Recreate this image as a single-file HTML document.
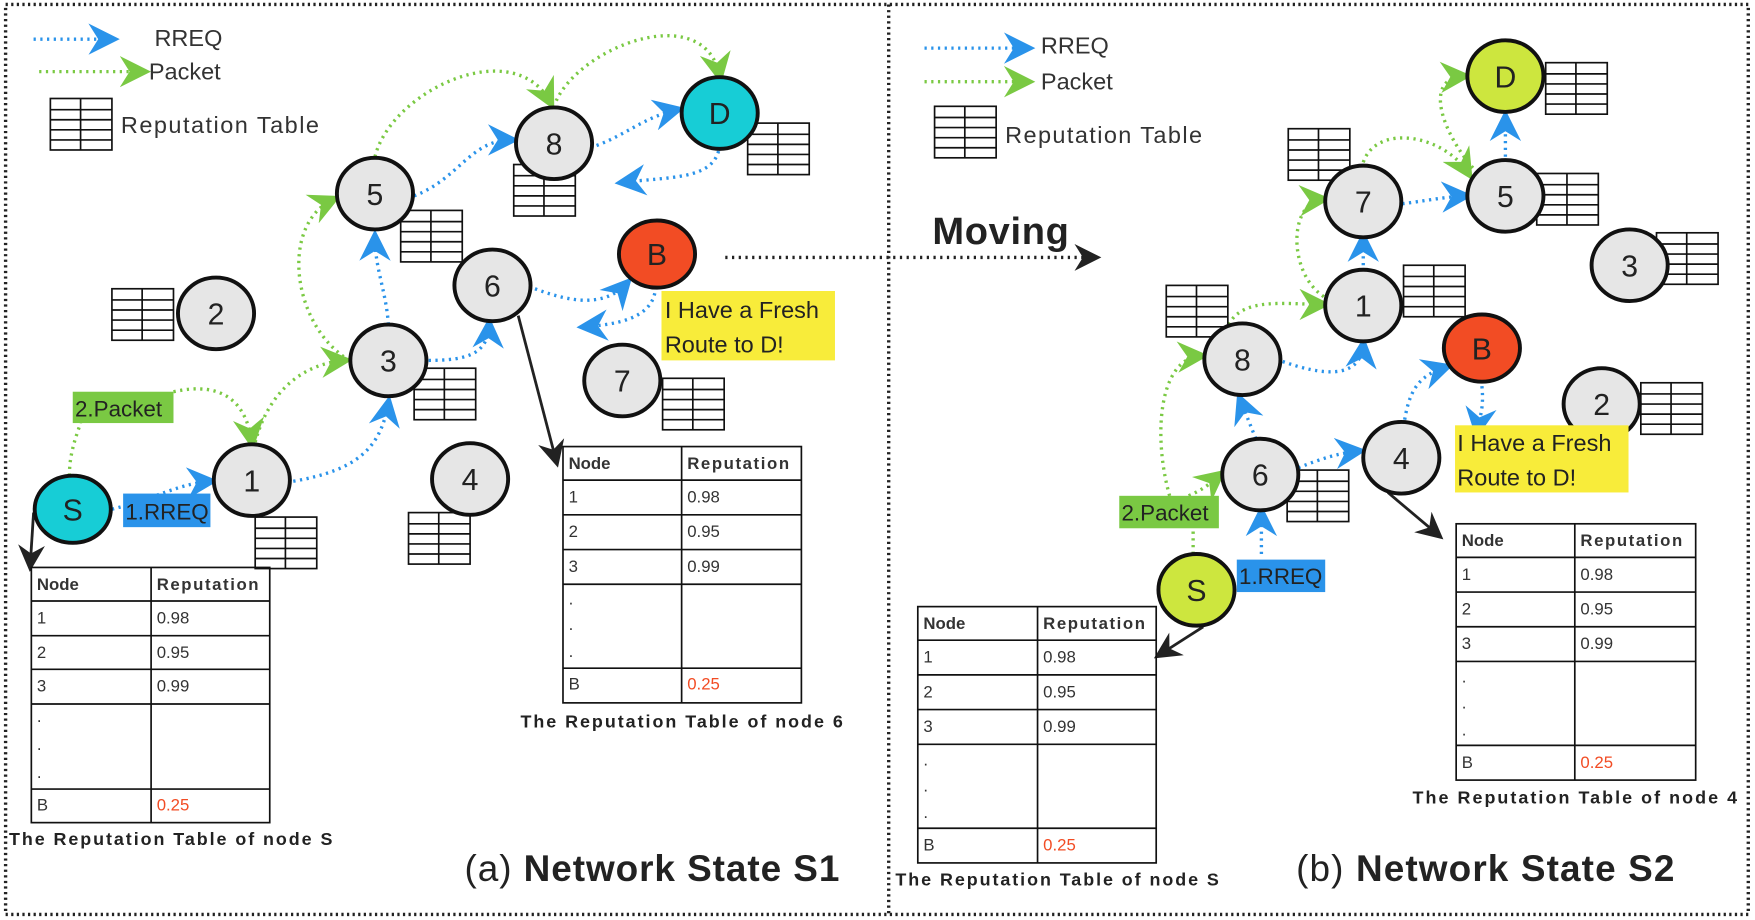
<!DOCTYPE html>
<html><head><meta charset="utf-8"><style>
html,body{margin:0;padding:0;background:#fff}
svg{display:block}
text{font-family:"Liberation Sans",sans-serif}
</style></head><body>
<svg width="1755" height="920" viewBox="0 0 1568 822" preserveAspectRatio="none" xmlns="http://www.w3.org/2000/svg">
<defs>
<marker id="mb" viewBox="0 0 16 16" refX="12" refY="8" markerWidth="28" markerHeight="28" markerUnits="userSpaceOnUse" orient="auto"><path d="M0,0 L16,8 L0,16 L5,8 Z" fill="#2a93ea"/></marker>
<marker id="mg" viewBox="0 0 16 16" refX="12" refY="8" markerWidth="28" markerHeight="28" markerUnits="userSpaceOnUse" orient="auto"><path d="M0,0 L16,8 L0,16 L5,8 Z" fill="#7ac943"/></marker>
<marker id="mk" viewBox="0 0 16 16" refX="12" refY="8" markerWidth="24" markerHeight="24" markerUnits="userSpaceOnUse" orient="auto"><path d="M0,0 L16,8 L0,16 L5,8 Z" fill="#222"/></marker>
<g id="mt">
<rect x="0" y="0" width="55" height="46" fill="#fff" stroke="#111" stroke-width="1.5"/>
<line x1="27" y1="0" x2="27" y2="46" stroke="#111" stroke-width="1.5"/>
<line x1="0" y1="10" x2="55" y2="10" stroke="#111" stroke-width="1.5"/>
<line x1="0" y1="19" x2="55" y2="19" stroke="#111" stroke-width="1.5"/>
<line x1="0" y1="28" x2="55" y2="28" stroke="#111" stroke-width="1.5"/>
<line x1="0" y1="37" x2="55" y2="37" stroke="#111" stroke-width="1.5"/>
</g>
</defs>
<rect x="5" y="4" width="1557" height="813" fill="none" stroke="#222" stroke-width="3" stroke-dasharray="2,3"/>
<line x1="794" y1="4" x2="794" y2="817" stroke="#222" stroke-width="3" stroke-dasharray="2,3"/>

<g fill="none" stroke-width="3" stroke-dasharray="2,4">
<line x1="30" y1="35" x2="100" y2="35" stroke="#2a93ea" marker-end="url(#mb)"/>
<line x1="35" y1="64" x2="128" y2="64" stroke="#7ac943" marker-end="url(#mg)"/>
<line x1="826" y1="43" x2="918" y2="43" stroke="#2a93ea" marker-end="url(#mb)"/>
<line x1="826" y1="73" x2="918" y2="73" stroke="#7ac943" marker-end="url(#mg)"/>
</g>
<g font-size="21" fill="#333">
<text x="138" y="41">RREQ</text><text x="133" y="71">Packet</text><text x="108" y="119" textLength="177">Reputation Table</text>
<text x="930" y="48">RREQ</text><text x="930" y="80">Packet</text><text x="898" y="128" textLength="176">Reputation Table</text>
</g>
<use href="#mt" x="45" y="88"/>
<use href="#mt" x="835" y="95"/>

<g fill="none" stroke="#7ac943" stroke-width="3" stroke-dasharray="2,4">
<path d="M62,425 C62,405 68,390 72,378"/>
<path d="M155,350 C200,340 220,360 225,395" marker-end="url(#mg)"/>
<path d="M228,395 C240,350 270,325 308,322" marker-end="url(#mg)"/>
<path d="M312,322 C260,290 250,200 298,178" marker-end="url(#mg)"/>
<path d="M335,140 C350,80 460,30 492,92" marker-end="url(#mg)"/>
<path d="M497,90 C520,40 630,0 643,68" marker-end="url(#mg)"/>
<path d="M1066,495 C1066,485 1066,478 1066,473"/>
<path d="M1062,443 C1080,435 1085,428 1090,424" marker-end="url(#mg)"/>
<path d="M1045,443 C1030,390 1035,320 1073,318" marker-end="url(#mg)"/>
<path d="M1098,290 C1110,265 1150,272 1182,272" marker-end="url(#mg)"/>
<path d="M1188,268 C1150,250 1150,180 1182,178" marker-end="url(#mg)"/>
<path d="M1218,145 C1230,110 1290,120 1312,155" marker-end="url(#mg)"/>
<path d="M1316,150 C1290,120 1270,70 1308,68" marker-end="url(#mg)"/>
</g>
<g fill="none" stroke="#2a93ea" stroke-width="3" stroke-dasharray="2,4">
<path d="M100,455 C140,445 160,432 188,430" marker-end="url(#mb)"/>
<path d="M262,430 C320,420 340,400 347,360" marker-end="url(#mb)"/>
<path d="M347,290 C345,260 335,240 335,212" marker-end="url(#mb)"/>
<path d="M370,175 C410,160 420,125 457,125" marker-end="url(#mb)"/>
<path d="M533,130 C560,120 575,105 605,98" marker-end="url(#mb)"/>
<path d="M642,135 C635,160 600,158 556,163" marker-end="url(#mb)"/>
<path d="M383,322 C420,322 436,315 437,290" marker-end="url(#mb)"/>
<path d="M478,258 C510,270 540,275 560,253" marker-end="url(#mb)"/>
<path d="M585,262 C580,285 550,290 522,292" marker-end="url(#mb)"/>
<path d="M1127,495 L1127,458" marker-end="url(#mb)"/>
<path d="M1122,392 L1108,357" marker-end="url(#mb)"/>
<path d="M1146,323 C1180,335 1215,340 1218,308" marker-end="url(#mb)"/>
<path d="M1218,243 L1218,213" marker-end="url(#mb)"/>
<path d="M1253,182 C1270,180 1290,176 1309,175" marker-end="url(#mb)"/>
<path d="M1345,140 L1345,105" marker-end="url(#mb)"/>
<path d="M1160,418 C1180,410 1195,405 1214,403" marker-end="url(#mb)"/>
<path d="M1255,375 C1260,345 1270,335 1292,328" marker-end="url(#mb)"/>
<path d="M1324,345 C1326,365 1322,372 1320,385" marker-end="url(#mb)"/>
</g>
<g fill="none" stroke="#222" stroke-width="2.5">
<line x1="463" y1="282" x2="497" y2="412" marker-end="url(#mk)"/>
<line x1="30" y1="458" x2="27" y2="505" marker-end="url(#mk)"/>
<line x1="1240" y1="440" x2="1285" y2="478" marker-end="url(#mk)"/>
<line x1="1075" y1="560" x2="1036" y2="585" marker-end="url(#mk)"/>
</g>
<line x1="648" y1="230" x2="978" y2="230" stroke="#222" stroke-width="3" stroke-dasharray="2,4" marker-end="url(#mk)"/>
<text x="833" y="218" font-size="34" font-weight="bold" fill="#222" textLength="122">Moving</text>

<use href="#mt" x="668" y="110"/><use href="#mt" x="459" y="147"/><use href="#mt" x="358" y="188"/>
<use href="#mt" x="100" y="258"/><use href="#mt" x="370" y="329"/><use href="#mt" x="592" y="338"/>
<use href="#mt" x="228" y="462"/><use href="#mt" x="365" y="458"/>
<use href="#mt" x="1381" y="56"/><use href="#mt" x="1151" y="115"/><use href="#mt" x="1373" y="155"/>
<use href="#mt" x="1480" y="208"/><use href="#mt" x="1254" y="237"/><use href="#mt" x="1042" y="255"/>
<use href="#mt" x="1466" y="342"/><use href="#mt" x="1150" y="420"/>

<g stroke="#111" stroke-width="3.5">
<g fill="#e6e6e6">
<ellipse cx="495" cy="128" rx="34" ry="32"/><ellipse cx="335" cy="173" rx="34" ry="32"/>
<ellipse cx="440" cy="255" rx="34" ry="32"/><ellipse cx="193" cy="280" rx="34" ry="32"/>
<ellipse cx="347" cy="322" rx="34" ry="32"/><ellipse cx="556" cy="340" rx="34" ry="32"/>
<ellipse cx="225" cy="429" rx="34" ry="32"/><ellipse cx="420" cy="428" rx="34" ry="32"/>
<ellipse cx="1218" cy="180" rx="34" ry="32"/><ellipse cx="1345" cy="175" rx="34" ry="32"/>
<ellipse cx="1456" cy="237" rx="34" ry="32"/><ellipse cx="1218" cy="273" rx="34" ry="32"/>
<ellipse cx="1110" cy="321" rx="34" ry="32"/><ellipse cx="1431" cy="361" rx="34" ry="32"/>
<ellipse cx="1126" cy="424" rx="34" ry="32"/><ellipse cx="1252" cy="409" rx="34" ry="32"/>
</g>
<ellipse cx="643" cy="101" rx="34" ry="32" fill="#17cdd6"/>
<ellipse cx="65" cy="455" rx="34" ry="30" fill="#17cdd6"/>
<ellipse cx="587" cy="227" rx="34" ry="30" fill="#f24c24"/>
<ellipse cx="1324" cy="311" rx="34" ry="30" fill="#f24c24"/>
<ellipse cx="1345" cy="68" rx="34" ry="32" fill="#cde63e"/>
<ellipse cx="1069" cy="527" rx="34" ry="32" fill="#cde63e"/>
</g>
<g font-size="27" fill="#222" text-anchor="middle">
<text x="495" y="138">8</text><text x="335" y="183">5</text><text x="440" y="265">6</text><text x="193" y="290">2</text>
<text x="347" y="332">3</text><text x="556" y="350">7</text><text x="225" y="439">1</text><text x="420" y="438">4</text>
<text x="643" y="111">D</text><text x="65" y="465">S</text><text x="587" y="237">B</text>
<text x="1218" y="190">7</text><text x="1345" y="185">5</text><text x="1456" y="247">3</text><text x="1218" y="283">1</text>
<text x="1110" y="331">8</text><text x="1431" y="371">2</text><text x="1126" y="434">6</text><text x="1252" y="419">4</text>
<text x="1324" y="321">B</text><text x="1345" y="78">D</text><text x="1069" y="537">S</text>
</g>

<rect x="591" y="260" width="155" height="62" fill="#f8ec3a"/>
<text x="594" y="284" font-size="21" fill="#222">I Have a Fresh</text><text x="594" y="315" font-size="21" fill="#222">Route to D!</text>
<rect x="1300" y="380" width="155" height="60" fill="#f8ec3a"/>
<text x="1302" y="403" font-size="21" fill="#222">I Have a Fresh</text><text x="1302" y="434" font-size="21" fill="#222">Route to D!</text>
<rect x="65" y="350" width="90" height="28" fill="#7ac943"/><text x="67" y="372" font-size="20" fill="#222">2.Packet</text>
<rect x="110" y="441" width="78" height="30" fill="#2a93ea"/><text x="112" y="464" font-size="20" fill="#222">1.RREQ</text>
<rect x="1000" y="443" width="89" height="29" fill="#7ac943"/><text x="1002" y="465" font-size="20" fill="#222">2.Packet</text>
<rect x="1105" y="500" width="79" height="29" fill="#2a93ea"/><text x="1107" y="522" font-size="20" fill="#222">1.RREQ</text>

<g stroke="#111" stroke-width="1.5" fill="none">
<rect x="28" y="507" width="213" height="228"/><line x1="135" y1="507" x2="135" y2="735"/>
<line x1="28" y1="537" x2="241" y2="537"/><line x1="28" y1="568" x2="241" y2="568"/><line x1="28" y1="598" x2="241" y2="598"/><line x1="28" y1="629" x2="241" y2="629"/><line x1="28" y1="705" x2="241" y2="705"/>
<rect x="503" y="399" width="213" height="229"/><line x1="609" y1="399" x2="609" y2="628"/>
<line x1="503" y1="429" x2="716" y2="429"/><line x1="503" y1="460" x2="716" y2="460"/><line x1="503" y1="491" x2="716" y2="491"/><line x1="503" y1="522" x2="716" y2="522"/><line x1="503" y1="597" x2="716" y2="597"/>
<rect x="1301" y="468" width="214" height="229"/><line x1="1407" y1="468" x2="1407" y2="697"/>
<line x1="1301" y1="498" x2="1515" y2="498"/><line x1="1301" y1="529" x2="1515" y2="529"/><line x1="1301" y1="560" x2="1515" y2="560"/><line x1="1301" y1="591" x2="1515" y2="591"/><line x1="1301" y1="666" x2="1515" y2="666"/>
<rect x="820" y="542" width="213" height="229"/><line x1="927" y1="542" x2="927" y2="771"/>
<line x1="820" y1="572" x2="1033" y2="572"/><line x1="820" y1="603" x2="1033" y2="603"/><line x1="820" y1="634" x2="1033" y2="634"/><line x1="820" y1="665" x2="1033" y2="665"/><line x1="820" y1="740" x2="1033" y2="740"/>
</g>
<g font-size="15" fill="#333">
<text x="33" y="527" font-weight="bold">Node</text><text x="140" y="527" font-weight="bold" textLength="91">Reputation</text>
<text x="33" y="557">1</text><text x="140" y="557">0.98</text><text x="33" y="588">2</text><text x="140" y="588">0.95</text><text x="33" y="618">3</text><text x="140" y="618">0.99</text>
<text x="33" y="645">.</text><text x="33" y="670">.</text><text x="33" y="695">.</text>
<text x="33" y="724">B</text><text x="140" y="724" fill="#f24c24">0.25</text>

<text x="508" y="419" font-weight="bold">Node</text><text x="614" y="419" font-weight="bold" textLength="91">Reputation</text>
<text x="508" y="449">1</text><text x="614" y="449">0.98</text><text x="508" y="480">2</text><text x="614" y="480">0.95</text><text x="508" y="511">3</text><text x="614" y="511">0.99</text>
<text x="508" y="540">.</text><text x="508" y="563">.</text><text x="508" y="587">.</text>
<text x="508" y="616">B</text><text x="614" y="616" fill="#f24c24">0.25</text>

<text x="1306" y="488" font-weight="bold">Node</text><text x="1412" y="488" font-weight="bold" textLength="91">Reputation</text>
<text x="1306" y="518">1</text><text x="1412" y="518">0.98</text><text x="1306" y="549">2</text><text x="1412" y="549">0.95</text><text x="1306" y="580">3</text><text x="1412" y="580">0.99</text>
<text x="1306" y="610">.</text><text x="1306" y="633">.</text><text x="1306" y="657">.</text>
<text x="1306" y="686">B</text><text x="1412" y="686" fill="#f24c24">0.25</text>

<text x="825" y="562" font-weight="bold">Node</text><text x="932" y="562" font-weight="bold" textLength="91">Reputation</text>
<text x="825" y="592">1</text><text x="932" y="592">0.98</text><text x="825" y="623">2</text><text x="932" y="623">0.95</text><text x="825" y="654">3</text><text x="932" y="654">0.99</text>
<text x="825" y="684">.</text><text x="825" y="707">.</text><text x="825" y="731">.</text>
<text x="825" y="760">B</text><text x="932" y="760" fill="#f24c24">0.25</text>
</g>
<g font-size="16" font-weight="bold" fill="#222">
<text x="8" y="755" textLength="289">The Reputation Table of node S</text>
<text x="465" y="650" textLength="288">The Reputation Table of node 6</text>
<text x="1262" y="718" textLength="290">The Reputation Table of node 4</text>
<text x="800" y="791" textLength="289">The Reputation Table of node S</text>
</g>
<text x="415" y="787" font-size="33" fill="#222" textLength="335">(a) <tspan font-weight="bold">Network State S1</tspan></text>
<text x="1158" y="787" font-size="33" fill="#222" textLength="338">(b) <tspan font-weight="bold">Network State S2</tspan></text>
</svg>
</body></html>
